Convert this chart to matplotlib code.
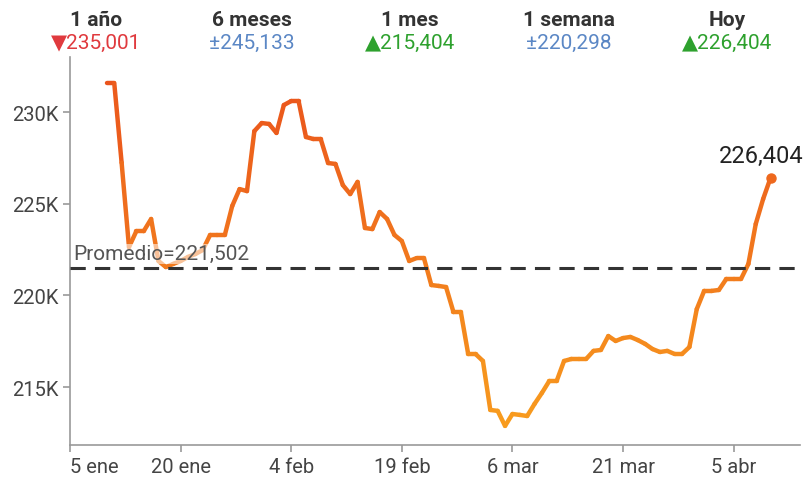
import datetime as dt
import numpy as np
import matplotlib
matplotlib.use("Agg")
import matplotlib.pyplot as plt
import matplotlib.dates as mdates
from matplotlib.collections import LineCollection
from matplotlib.colors import LinearSegmentedColormap, Normalize

plt.rcParams['font.family'] = ['Roboto', 'DejaVu Sans']

# daily values, 10 ene -> 10 abr
start_date = dt.date(2023, 1, 10)
values = [
    231580, 231580, 227240, 222640, 223510, 223510, 224170, 221880, 221550, 221720,
    221880, 222100, 222260, 222480, 223300, 223300, 223300, 224880, 225800, 225690,
    228960, 229400, 229350, 228860, 230380, 230600, 230600, 228640, 228530, 228530,
    227220, 227170, 226020, 225530, 226190, 223680, 223620, 224550, 224170, 223300,
    222970, 221880, 222040, 222040, 220570, 220520, 220460, 219100, 219100, 216810,
    216810, 216430, 213760, 213710, 212890, 213540, 213490, 213430, 214090, 214690,
    215340, 215340, 216430, 216540, 216540, 216540, 216980, 217030, 217790, 217520,
    217680, 217740, 217570, 217360, 217080, 216920, 216980, 216810, 216810, 217190,
    219260, 220250, 220250, 220300, 220900, 220900, 220900, 221720, 223900, 225260,
    226404,
]
average = 221502

tick_labels = ["5 ene", "20 ene", "4 feb", "19 feb", "6 mar", "21 mar", "5 abr"]
y_ticks = [215000, 220000, 225000, 230000]
y_tick_labels = ["215K", "220K", "225K", "230K"]

# header summary
head_titles = ["1 año", "6 meses", "1 mes", "1 semana", "Hoy"]
head_values = ["▼235,001", "±245,133", "▲215,404", "±220,298", "▲226,404"]
head_colors = ["#e03a3e", "#5b87c5", "#2ea12e", "#5b87c5", "#2ea12e"]
head_x = [96, 252, 410, 569, 727]

dates = [start_date + dt.timedelta(days=i) for i in range(len(values))]
x = mdates.date2num(dates)
y = np.array(values, dtype=float)

fig = plt.figure(figsize=(8.04, 4.81), dpi=100)
ax = fig.add_axes([70 / 804, 35 / 481, 730 / 804, 388 / 481])

# line coloured by value
cmap = LinearSegmentedColormap.from_list("org", ["#f89c1e", "#ea541c"])
norm = Normalize(vmin=y.min(), vmax=y.max())
pts = np.column_stack([x, y]).reshape(-1, 1, 2)
segs = np.concatenate([pts[:-1], pts[1:]], axis=1)
mid = (y[:-1] + y[1:]) / 2
lc = LineCollection(segs, colors=cmap(norm(mid)), linewidths=3.2,
                    capstyle='round', joinstyle='round', zorder=2)
ax.add_collection(lc)
ax.plot(x[-1], y[-1], 'o', ms=6.5, color=cmap(norm(y[-1])), zorder=3)
ax.annotate(f"{values[-1]:,}", (x[-1], y[-1]), xytext=(-7, 8),
            textcoords='offset points', ha='center', va='bottom',
            fontsize=17, color='#222222')

# average line
ax.axhline(average, color='#333333', lw=2.2, dashes=(5, 3), zorder=4)
ax.text(mdates.date2num(dt.date(2023, 1, 5)) + 0.5, average + 250,
        f"Promedio={average:,}", fontsize=15, color='#555555',
        ha='left', va='bottom', zorder=5,
        bbox=dict(facecolor='white', edgecolor='none', alpha=0.55, pad=0.5))

# axes
tick_dates = [mdates.date2num(dt.date(2023, 1, 5) + dt.timedelta(days=15 * k))
              for k in range(len(tick_labels))]
ax.set_xlim(mdates.date2num(dt.date(2023, 1, 5)), mdates.date2num(dt.date(2023, 4, 14)))
ax.set_ylim(211850, 233000)
ax.set_xticks(tick_dates)
ax.set_xticklabels(tick_labels)
ax.get_xticklabels()[0].set_horizontalalignment('left')
ax.set_yticks(y_ticks)
ax.set_yticklabels(y_tick_labels)
for s in ['top', 'right']:
    ax.spines[s].set_visible(False)
for s in ['left', 'bottom']:
    ax.spines[s].set_color('#999999')
    ax.spines[s].set_linewidth(1.2)
ax.tick_params(colors='#999999', labelcolor='#444444', labelsize=14.5,
               length=5, width=1.2)

for t, v, c, hx in zip(head_titles, head_values, head_colors, head_x):
    fig.text(hx / 804, 1 - 20 / 481, t, ha='center', va='center',
             fontsize=15, fontweight='bold', color='#333333')
    fig.text(hx / 804, 1 - 43 / 481, v, ha='center', va='center',
             fontsize=15, color=c)

fig.savefig("out.png", dpi=100)
